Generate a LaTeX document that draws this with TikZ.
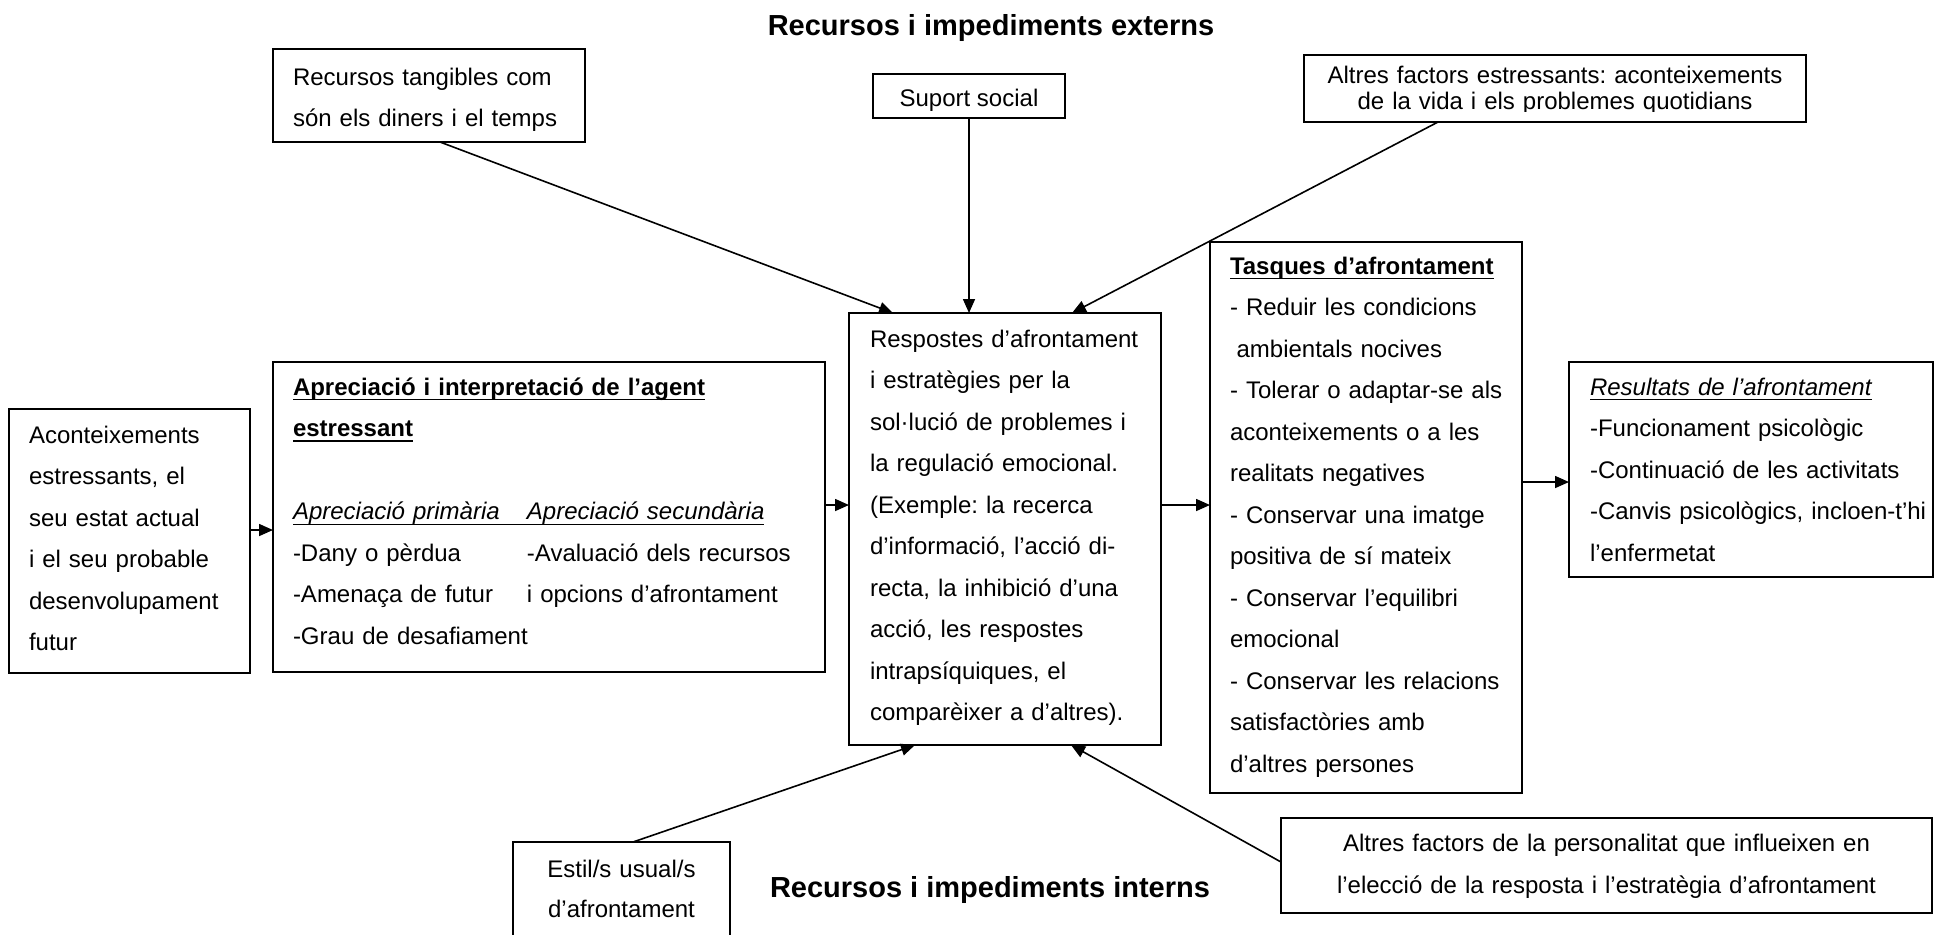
\documentclass[tikz,border=0pt]{standalone}
\usepackage{fontspec}
\setmainfont{Liberation Sans}
\usetikzlibrary{arrows.meta,calc}
\frenchspacing

% first-line strut: fixes the height of the first line of every text block
\newcommand\fst{\rule{0pt}{10pt}}
% underlined text with a fixed rule position
\newcommand\ulbox[2][0.8pt]{\mbox{\setbox0=\hbox{#2}\rlap{\rule[-2.6pt]{\wd0}{#1}}\box0}}

\begin{document}
\begin{tikzpicture}[x=0.5pt,y=-0.5pt,
  box/.style={draw, line width=0.9pt, rectangle, inner sep=0pt, outer sep=0pt, anchor=north west},
  txt/.style={inner sep=0pt, outer sep=0pt, anchor=north west, align=left, text width=250pt,
              font=\fontsize{12}{20.75}\selectfont},
  ctxt/.style={inner sep=0pt, outer sep=0pt, anchor=north, align=center, text width=330pt,
               font=\fontsize{12}{20.75}\selectfont},
  arr/.style={line width=0.8pt, -{Triangle[length=7pt,width=6pt]}},
  heading/.style={inner sep=0pt, anchor=base, font=\fontsize{14.5}{17}\selectfont\bfseries}]

\useasboundingbox (0,0) rectangle (1937,934);

% ---- headings
\node[heading] (hext) at (991,35) {Recursos i impediments externs};
\node[heading] (hint) at (990,897) {Recursos i impediments interns};

% ---- boxes
\node[box, minimum width=156pt, minimum height=46.5pt]  (tang)  at (273,49)   {};
\node[box, minimum width=96pt,  minimum height=22pt]    (sup)   at (873,74)   {};
\node[box, minimum width=251pt, minimum height=33.5pt]  (ext)   at (1304,55)  {};
\node[box, minimum width=156pt, minimum height=216pt]   (resp)  at (849,313)  {};
\node[box, minimum width=156pt, minimum height=275.5pt] (tasq)  at (1210,242) {};
\node[box, minimum width=182pt, minimum height=107.5pt] (res)   at (1569,362) {};
\node[box, minimum width=276pt, minimum height=155pt]   (apr)   at (273,362)  {};
\node[box, minimum width=120.5pt, minimum height=132pt] (acon)  at (9,409)    {};
\node[box, minimum width=108.5pt, minimum height=49pt]  (estil) at (513,842)  {};
\node[box, minimum width=325.5pt, minimum height=47.5pt] (pers) at (1281,818) {};

% ---- texts
\node[txt] (ttang) at (293,65) {\fst Recursos tangibles com\\són els diners i el temps};
\node[inner sep=0pt, anchor=base, font=\fontsize{12}{14}\selectfont] (tsup) at (969,106) {Suport social};
\begin{scope}
  % the lower line of this box is cut off by its frame
  \clip (1304,55) rectangle (1806,111);
  \node[ctxt, font=\fontsize{12}{13}\selectfont] (text) at (1555,63)
    {\fst Altres factors estressants: aconteixements\\de la vida i els problemes quotidians};
\end{scope}

\node[txt] (tresp) at (870,327) {\fst Respostes d’afrontament\\
i estratègies per la\\
sol·lució de problemes i\\
la regulació emocional.\\
(Exemple: la recerca\\
d’informació, l’acció di-\\
recta, la inhibició d’una\\
acció, les respostes\\
intrapsíquiques, el\\
comparèixer a d’altres).};

\node[txt] (ttasq) at (1230,254) {\fst\ulbox{\textbf{Tasques d’afrontament}}\\
- Reduir les condicions\\
\hspace*{3.3pt}ambientals nocives\\
- Tolerar o adaptar-se als\\
aconteixements o a les\\
realitats negatives\\
- Conservar una imatge\\
positiva de sí mateix\\
- Conservar l’equilibri\\
emocional\\
- Conservar les relacions\\
satisfactòries amb\\
d’altres persones};

\node[txt] (tres) at (1590,375) {\fst\ulbox[0.6pt]{\textit{Resultats de l’afrontament}}\\
-Funcionament psicològic\\
-Continuació de les activitats\\
-Canvis psicològics, incloen-t’hi\\
l’enfermetat};

\node[txt, text width=270pt] (tapr) at (293,375) {\fst\ulbox{\textbf{Apreciació i interpretació de l’agent}}\\
\ulbox{\textbf{estressant}}\\
\mbox{}\\
\ulbox[0.6pt]{\textit{\makebox[117pt][l]{Apreciació primària}Apreciació secundària}}\\
\makebox[117pt][l]{-Dany o pèrdua}-Avaluació dels recursos\\
\makebox[117pt][l]{-Amenaça de futur}i opcions d’afrontament\\
-Grau de desafiament};

\node[txt] (tacon) at (29,423) {\fst Aconteixements\\
estressants, el\\
seu estat actual\\
i el seu probable\\
desenvolupament\\
futur};

\node[ctxt, font=\fontsize{12}{20}\selectfont] (testil) at (621.5,857) {\fst Estil/s usual/s\\d’afrontament};
\node[ctxt, font=\fontsize{12}{21}\selectfont] (tpers) at (1606.5,831)
  {\fst Altres factors de la personalitat que influeixen en\\l’elecció de la resposta i l’estratègia d’afrontament};

% ---- connectors
\draw[arr] ($(tang.south west)+(167,0)$) -- ($(resp.north west)+(44,0)$);
\draw[arr] ($(sup.south west)+(96,0)$)   -- ($(resp.north west)+(120,0)$);
\draw[arr] ($(ext.south west)+(134,0)$)  -- ($(resp.north west)+(223,0)$);
\draw[arr] ($(acon.north east)+(0,121)$) -- ($(apr.north west)+(0,168)$);
\draw[arr] ($(apr.north east)+(0,143)$)  -- ($(resp.north west)+(0,192)$);
\draw[arr] ($(resp.north east)+(0,192)$) -- ($(tasq.north west)+(0,263)$);
\draw[arr] ($(tasq.north east)+(0,240)$) -- ($(res.north west)+(0,120)$);
\draw[arr] ($(estil.north west)+(120,0)$) -- ($(resp.south west)+(66,0)$);
\draw[arr] ($(pers.north west)+(0,44)$)  -- ($(resp.south west)+(222,0)$);

\end{tikzpicture}
\end{document}
